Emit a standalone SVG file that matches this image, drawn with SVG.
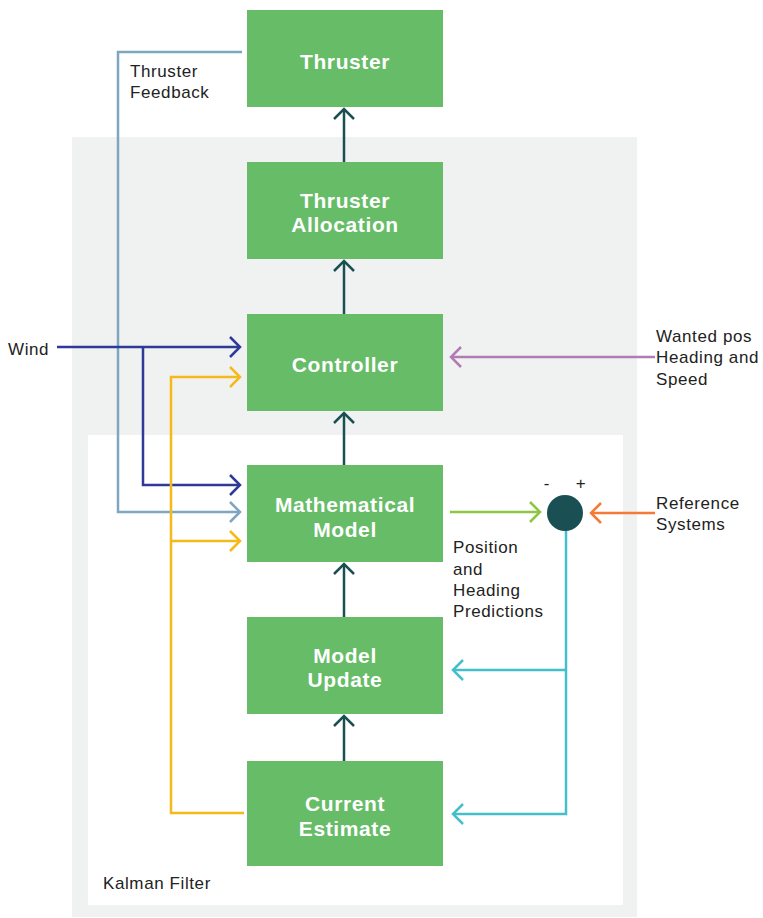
<svg xmlns="http://www.w3.org/2000/svg" width="763" height="918" viewBox="0 0 763 918">
<style>
.box{fill:#66bc67}
.bt{font-family:"Liberation Sans",Arial,sans-serif;font-weight:700;font-size:21px;letter-spacing:0.6px;fill:#ffffff;text-anchor:middle}
.lb{font-family:"Liberation Sans",Arial,sans-serif;font-size:17px;letter-spacing:0.6px;fill:#222222}
.ln{fill:none;stroke-width:2.5}
</style>
<defs>
<marker id="aDark" markerUnits="userSpaceOnUse" viewBox="0 0 14 24" refX="12" refY="12" markerWidth="14" markerHeight="24" orient="auto"><path d="M2,2 L12,12 L2,22" fill="none" stroke="#1a4f53" stroke-width="2.5"/></marker>
<marker id="aBlue" markerUnits="userSpaceOnUse" viewBox="0 0 14 24" refX="12" refY="12" markerWidth="14" markerHeight="24" orient="auto"><path d="M2,2 L12,12 L2,22" fill="none" stroke="#2e3a97" stroke-width="2.5"/></marker>
<marker id="aGrey" markerUnits="userSpaceOnUse" viewBox="0 0 14 24" refX="12" refY="12" markerWidth="14" markerHeight="24" orient="auto"><path d="M2,2 L12,12 L2,22" fill="none" stroke="#7ea6c0" stroke-width="2.5"/></marker>
<marker id="aYel" markerUnits="userSpaceOnUse" viewBox="0 0 14 24" refX="12" refY="12" markerWidth="14" markerHeight="24" orient="auto"><path d="M2,2 L12,12 L2,22" fill="none" stroke="#f5b919" stroke-width="2.5"/></marker>
<marker id="aPur" markerUnits="userSpaceOnUse" viewBox="0 0 14 24" refX="12" refY="12" markerWidth="14" markerHeight="24" orient="auto"><path d="M2,2 L12,12 L2,22" fill="none" stroke="#b07cb6" stroke-width="2.5"/></marker>
<marker id="aGrn" markerUnits="userSpaceOnUse" viewBox="0 0 14 24" refX="12" refY="12" markerWidth="14" markerHeight="24" orient="auto"><path d="M2,2 L12,12 L2,22" fill="none" stroke="#8dc63f" stroke-width="2.5"/></marker>
<marker id="aOra" markerUnits="userSpaceOnUse" viewBox="0 0 14 24" refX="12" refY="12" markerWidth="14" markerHeight="24" orient="auto"><path d="M2,2 L12,12 L2,22" fill="none" stroke="#f47a35" stroke-width="2.5"/></marker>
<marker id="aCyan" markerUnits="userSpaceOnUse" viewBox="0 0 14 24" refX="12" refY="12" markerWidth="14" markerHeight="24" orient="auto"><path d="M2,2 L12,12 L2,22" fill="none" stroke="#45bfc9" stroke-width="2.5"/></marker>
</defs>
<rect width="763" height="918" fill="#ffffff"/>
<g id="outer-panel"><rect x="72" y="137" width="565" height="780" fill="#f0f2f1"/></g>
<g id="kalman-filter">
<rect x="88" y="435" width="535" height="470" fill="#ffffff"/>
<text class="lb" x="103" y="889">Kalman Filter</text>
</g>
<g id="connectors">
<path class="ln" stroke="#1a4f53" d="M344,162 V109" marker-end="url(#aDark)"/>
<path class="ln" stroke="#1a4f53" d="M344,314 V261" marker-end="url(#aDark)"/>
<path class="ln" stroke="#1a4f53" d="M344,465 V413" marker-end="url(#aDark)"/>
<path class="ln" stroke="#1a4f53" d="M344,617 V564" marker-end="url(#aDark)"/>
<path class="ln" stroke="#1a4f53" d="M344,761 V716" marker-end="url(#aDark)"/>
<path class="ln" stroke="#7ea6c0" d="M242,52 H118 V512 H240" marker-end="url(#aGrey)"/>
<path class="ln" stroke="#2e3a97" d="M57,347 H240" marker-end="url(#aBlue)"/>
<path class="ln" stroke="#2e3a97" d="M143,347 V485 H240" marker-end="url(#aBlue)"/>
<path class="ln" stroke="#f5b919" d="M244,813 H171 V377 H240" marker-end="url(#aYel)"/>
<path class="ln" stroke="#f5b919" d="M171,541 H240" marker-end="url(#aYel)"/>
<path class="ln" stroke="#b07cb6" d="M655,357 H451" marker-end="url(#aPur)"/>
<path class="ln" stroke="#8dc63f" d="M450,512 H540" marker-end="url(#aGrn)"/>
<path class="ln" stroke="#f47a35" d="M655,513 H591" marker-end="url(#aOra)"/>
<path class="ln" stroke="#45bfc9" d="M566,530 V814 H453" marker-end="url(#aCyan)"/>
<path class="ln" stroke="#45bfc9" d="M566,670 H453" marker-end="url(#aCyan)"/>
</g>
<g id="thruster"><rect class="box" x="247" y="10" width="196" height="97"/><text class="bt" x="345" y="69">Thruster</text></g>
<g id="thruster-allocation"><rect class="box" x="247" y="162" width="196" height="97"/><text class="bt" x="345" y="208">Thruster</text><text class="bt" x="345" y="232">Allocation</text></g>
<g id="controller"><rect class="box" x="247" y="314" width="196" height="97"/><text class="bt" x="345" y="372">Controller</text></g>
<g id="mathematical-model"><rect class="box" x="247" y="465" width="196" height="97"/><text class="bt" x="345" y="512">Mathematical</text><text class="bt" x="345" y="537">Model</text></g>
<g id="model-update"><rect class="box" x="247" y="617" width="196" height="97"/><text class="bt" x="345" y="663">Model</text><text class="bt" x="345" y="687">Update</text></g>
<g id="current-estimate"><rect class="box" x="247" y="761" width="196" height="105"/><text class="bt" x="345" y="811">Current</text><text class="bt" x="345" y="836">Estimate</text></g>
<g id="comparator">
<circle cx="565" cy="513" r="18" fill="#1a4f53"/>
<text class="lb" x="547" y="489" text-anchor="middle">-</text>
<text class="lb" x="581" y="489" text-anchor="middle">+</text>
</g>
<g id="labels">
<text class="lb" x="130" y="77">Thruster</text>
<text class="lb" x="130" y="98">Feedback</text>
<text class="lb" x="8" y="355">Wind</text>
<text class="lb" x="656" y="342">Wanted pos</text>
<text class="lb" x="656" y="363">Heading and</text>
<text class="lb" x="656" y="385">Speed</text>
<text class="lb" x="656" y="509">Reference</text>
<text class="lb" x="656" y="530">Systems</text>
<text class="lb" x="453" y="553">Position</text>
<text class="lb" x="453" y="575">and</text>
<text class="lb" x="453" y="596">Heading</text>
<text class="lb" x="453" y="617">Predictions</text>
</g>
</svg>
